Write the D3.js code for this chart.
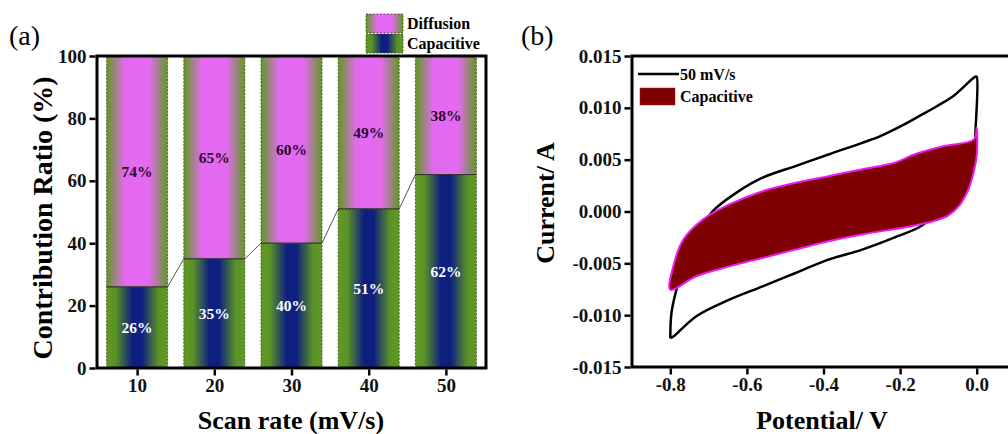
<!DOCTYPE html>
<html><head><meta charset="utf-8">
<script src="https://cdnjs.cloudflare.com/ajax/libs/d3/7.8.5/d3.min.js"></script>
<style>body{margin:0;background:#fff}svg{display:block}text{font-family:"Liberation Serif","Times New Roman",serif}</style>
</head><body><svg id="c" width="1008" height="434"></svg>
<script>
// ---- Panel (a) data ----
const scanRates = [10, 20, 30, 40, 50];
const capacitive = [26, 35, 40, 51, 62];
const diffusion = [74, 65, 60, 49, 38];
const yTicksA = [0, 20, 40, 60, 80, 100];

// ---- Panel (b) data ----
// CV at 50 mV/s (closed loop: anodic then cathodic)
const cvV = [-0.800,-0.797,-0.784,-0.760,-0.730,-0.689,-0.628,-0.559,-0.473,-0.387,-0.301,-0.250,-0.189,-0.150,-0.102,-0.059,-0.003,0.000,
             -0.003,-0.006,-0.020,-0.050,-0.086,-0.145,-0.214,-0.301,-0.387,-0.473,-0.559,-0.646,-0.732,-0.792,-0.800];
const cvI = [-0.01222,-0.0098,-0.00754,-0.0047,-0.0023,0.00003,0.0018,0.00326,0.00438,0.0055,0.0066,0.0073,0.0084,0.0092,0.0102,0.0112,0.01302,0.01300,
             0.0079,0.0060,0.0031,0.0013,0.0004,-0.0014,-0.0025,-0.0037,-0.00464,-0.00593,-0.00722,-0.00851,-0.0101,-0.01206,-0.01222];
// Capacitive contribution region
const capV = [-0.800,-0.793,-0.766,-0.715,-0.646,-0.559,-0.473,-0.387,-0.301,-0.214,-0.163,-0.085,-0.007,0.000,
              0.000,-0.010,-0.022,-0.045,-0.075,-0.110,-0.171,-0.301,-0.387,-0.473,-0.559,-0.646,-0.732,-0.800];
const capI = [-0.00754,-0.00540,-0.00271,-0.00077,0.00068,0.00196,0.00277,0.00341,0.00406,0.0047,0.0055,0.00631,0.00696,0.0081,
              0.0054,0.0035,0.0021,0.0006,-0.0004,-0.0009,-0.00142,-0.00222,-0.00287,-0.00367,-0.00448,-0.00529,-0.00625,-0.00754];
const xTicksB = [-0.8, -0.6, -0.4, -0.2, 0.0];
const yTicksB = [-0.015, -0.010, -0.005, 0.000, 0.005, 0.010, 0.015];

const FS_TICK = 19, FS_TITLE = 26, FS_LEG = 16, FS_PCT = 15.5;

const svg = d3.select("#c");
const defs = svg.append("defs");
const gD = defs.append("linearGradient").attr("id","gDiff").attr("x1","0%").attr("x2","100%");
[[0,"#5f9a22"],[0.3,"#e36af0"],[0.7,"#e36af0"],[1,"#5f9a22"]].forEach(s=>gD.append("stop").attr("offset",s[0]).attr("stop-color",s[1]));
const gC = defs.append("linearGradient").attr("id","gCap").attr("x1","0%").attr("x2","100%");
[[0,"#5f9a22"],[0.15,"#5a9226"],[0.42,"#0e1f80"],[0.58,"#0e1f80"],[0.85,"#5a9226"],[1,"#5f9a22"]].forEach(s=>gC.append("stop").attr("offset",s[0]).attr("stop-color",s[1]));

function styleAxis(a){
  a.select(".domain").remove();
  a.selectAll("line").attr("stroke","#000").attr("stroke-width",2.5);
  a.selectAll("text").attr("font-family","Liberation Serif").attr("font-weight","bold").attr("font-size",FS_TICK).attr("fill","#111")
    .text(function(){return d3.select(this).text().replace("\u2212","-");});
}

// ===== Panel (a) =====
const A = {l:97, r:486, t:56, b:368};
const xA = d3.scaleLinear().domain([5,55]).range([A.l+1.5, A.r-1.5]);
const yA = d3.scaleLinear().domain([0,100]).range([A.b, A.t]);
const bw = 61;
const ga = svg.append("g");

scanRates.forEach((s,i)=>{
  const x0 = xA(s)-bw/2;
  ga.append("rect").attr("x",x0).attr("width",bw).attr("y",yA(100)).attr("height",yA(capacitive[i])-yA(100))
    .attr("fill","url(#gDiff)").attr("stroke","#3a4a20").attr("stroke-width",0.8).attr("stroke-dasharray","2,1.5");
  ga.append("rect").attr("x",x0).attr("width",bw).attr("y",yA(capacitive[i])).attr("height",yA(0)-yA(capacitive[i]))
    .attr("fill","url(#gCap)").attr("stroke","#3a4a20").attr("stroke-width",0.8).attr("stroke-dasharray","2,1.5");
  ga.append("line").attr("x1",x0).attr("x2",x0+bw).attr("y1",yA(capacitive[i])).attr("y2",yA(capacitive[i]))
    .attr("stroke","#333").attr("stroke-width",1);
  if(i<scanRates.length-1){
    ga.append("line").attr("x1",x0+bw).attr("y1",yA(capacitive[i]))
      .attr("x2",xA(scanRates[i+1])-bw/2).attr("y2",yA(capacitive[i+1]))
      .attr("stroke","#555").attr("stroke-width",1);
  }
  ga.append("text").attr("x",xA(s)).attr("y",yA((capacitive[i]+100)/2)).attr("dy","0.35em")
    .attr("text-anchor","middle").attr("font-weight","bold").attr("font-size",FS_PCT).attr("fill","#2a0a2a")
    .text(diffusion[i]+"%");
  ga.append("text").attr("x",xA(s)).attr("y",yA(capacitive[i]/2)).attr("dy","0.35em")
    .attr("text-anchor","middle").attr("font-weight","bold").attr("font-size",FS_PCT).attr("fill","#fff")
    .text(capacitive[i]+"%");
});

ga.append("rect").attr("x",A.l).attr("y",A.t).attr("width",A.r-A.l).attr("height",A.b-A.t)
  .attr("fill","none").attr("stroke","#000").attr("stroke-width",3);
styleAxis(ga.append("g").attr("transform",`translate(${A.l-1.5},0)`)
  .call(d3.axisLeft(yA).tickValues(yTicksA).tickSize(6).tickPadding(3)));
styleAxis(ga.append("g").attr("transform",`translate(0,${A.b+1.5})`)
  .call(d3.axisBottom(xA).tickValues(scanRates).tickSize(6).tickPadding(3)));

ga.append("text").attr("transform",`translate(52,218) rotate(-90)`).attr("text-anchor","middle")
  .attr("font-weight","bold").attr("font-size",28).text("Contribution Ratio (%)");
ga.append("text").attr("x",291).attr("y",429).attr("text-anchor","middle")
  .attr("font-weight","bold").attr("font-size",FS_TITLE).text("Scan rate (mV/s)");
ga.append("text").attr("x",9).attr("y",45).attr("font-size",28).text("(a)");

// legend (a)
const legA = [["Diffusion","url(#gDiff)",14],["Capacitive","url(#gCap)",34]];
legA.forEach(d=>{
  ga.append("rect").attr("x",366).attr("y",d[2]).attr("width",37).attr("height",19).attr("fill",d[1])
    .attr("stroke","#3a4a20").attr("stroke-width",0.8).attr("stroke-dasharray","2,1.5");
  ga.append("text").attr("x",407).attr("y",d[2]+15).attr("font-weight","bold").attr("font-size",FS_LEG).text(d[0]);
});

// ===== Panel (b) =====
const B = {l:632, r:1015, t:56, b:367};
const xB = d3.scaleLinear().domain([-0.9,0.1]).range([B.l, B.r]);
const yB = d3.scaleLinear().domain([-0.015,0.015]).range([B.b, B.t]);
const gb = svg.append("g");

const ptsCV = cvV.map((v,i)=>[xB(v), yB(cvI[i])]);
gb.append("path").attr("d", d3.line().curve(d3.curveCatmullRom)(ptsCV))
  .attr("fill","none").attr("stroke","#000").attr("stroke-width",2.5).attr("stroke-linejoin","round");
const ptsCap = capV.map((v,i)=>[xB(v), yB(capI[i])]);
gb.append("path").attr("d", d3.line().curve(d3.curveCatmullRomClosed)(ptsCap.slice(0,-1)))
  .attr("fill","#7f0000").attr("stroke","#f018f0").attr("stroke-width",2);

gb.append("path").attr("d",`M${B.r},${B.t}H${B.l}V${B.b}H${B.r}`).attr("fill","none").attr("stroke","#000").attr("stroke-width",3);
styleAxis(gb.append("g").attr("transform",`translate(${B.l-1.5},0)`)
  .call(d3.axisLeft(yB).tickValues(yTicksB).tickSize(6).tickPadding(3).tickFormat(d3.format(".3f"))));
styleAxis(gb.append("g").attr("transform",`translate(0,${B.b+1.5})`)
  .call(d3.axisBottom(xB).tickValues(xTicksB).tickSize(6).tickPadding(3).tickFormat(d3.format(".1f"))));

gb.append("text").attr("transform",`translate(554,203) rotate(-90)`).attr("text-anchor","middle")
  .attr("font-weight","bold").attr("font-size",FS_TITLE).text("Current/ A");
gb.append("text").attr("x",822).attr("y",429).attr("text-anchor","middle")
  .attr("font-weight","bold").attr("font-size",FS_TITLE).text("Potential/ V");
gb.append("text").attr("x",521).attr("y",45).attr("font-size",28).text("(b)");

// legend (b)
gb.append("line").attr("x1",638).attr("x2",679).attr("y1",74).attr("y2",74).attr("stroke","#000").attr("stroke-width",2.5);
gb.append("text").attr("x",680).attr("y",80).attr("font-weight","bold").attr("font-size",FS_LEG).text("50 mV/s");
gb.append("rect").attr("x",640).attr("y",88).attr("width",35).attr("height",17).attr("fill","#7f0000").attr("stroke","#9a2020").attr("stroke-width",0.5);
gb.append("text").attr("x",680).attr("y",102).attr("font-weight","bold").attr("font-size",FS_LEG).text("Capacitive");
</script></body></html>
